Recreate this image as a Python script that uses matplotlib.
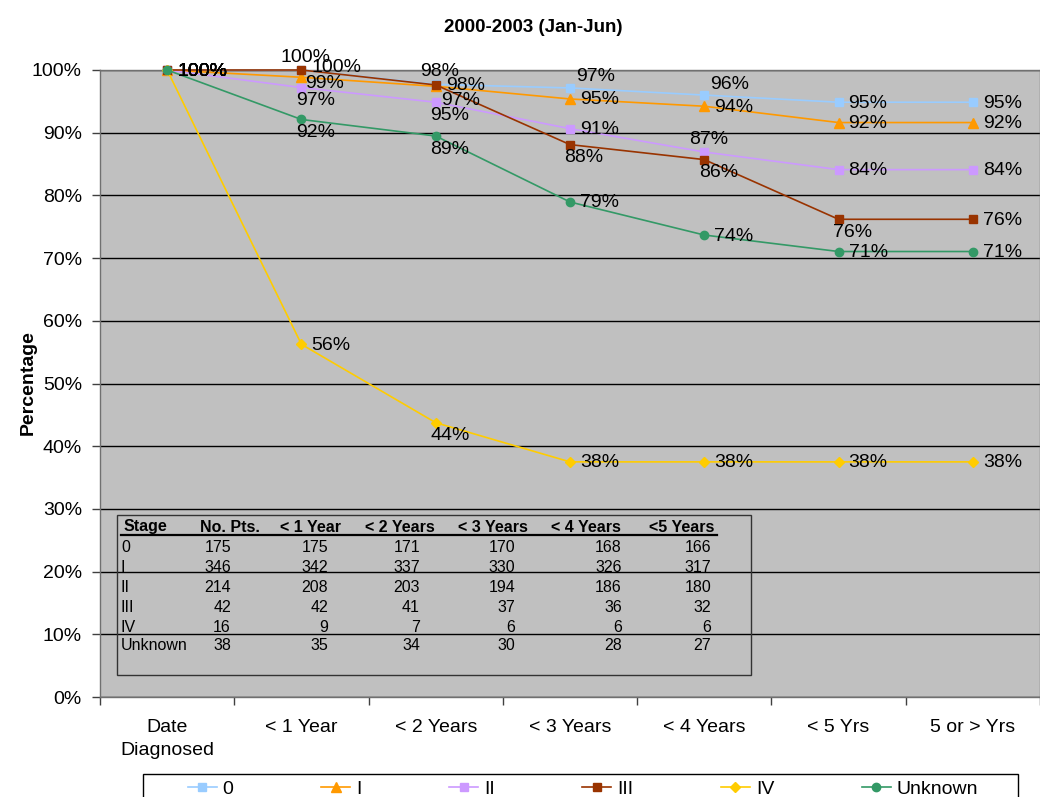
import matplotlib
matplotlib.use("Agg")
import matplotlib.pyplot as plt
from matplotlib.lines import Line2D
from matplotlib.patches import Rectangle

plt.rcParams['font.family'] = ['Liberation Sans', 'DejaVu Sans']

# ---------------- data ----------------
title = "2000-2003 (Jan-Jun)"
categories = ["Date\nDiagnosed", "< 1 Year", "< 2 Years", "< 3 Years",
              "< 4 Years", "< 5 Yrs", "5 or > Yrs"]
series_names = ["0", "I", "II", "III", "IV", "Unknown"]
s0 = [100, 100, 97.71, 97.14, 96.00, 94.86, 94.86]
s1 = [100, 98.84, 97.40, 95.38, 94.22, 91.62, 91.62]
s2 = [100, 97.20, 94.86, 90.65, 86.92, 84.11, 84.11]
s3 = [100, 100, 97.62, 88.10, 85.71, 76.19, 76.19]
s4 = [100, 56.25, 43.75, 37.5, 37.5, 37.5, 37.5]
s5 = [100, 92.11, 89.47, 78.95, 73.68, 71.05, 71.05]
yticks = [0, 10, 20, 30, 40, 50, 60, 70, 80, 90, 100]

table_header = ["Stage", "No. Pts.", "< 1 Year", "< 2 Years", "< 3 Years",
                "< 4 Years", "<5 Years"]
table_stages = ["0", "I", "II", "III", "IV", "Unknown"]
col_no_pts = [175, 346, 214, 42, 16, 38]
col_1y = [175, 342, 208, 42, 9, 35]
col_2y = [171, 337, 203, 41, 7, 34]
col_3y = [170, 330, 194, 37, 6, 30]
col_4y = [168, 326, 186, 36, 6, 28]
col_5y = [166, 317, 180, 32, 6, 27]

# ---------------- styles ----------------
colors = ["#99CCFF", "#FF9900", "#CC99FF", "#993300", "#FFCC00", "#339966"]
markers = ["s", "^", "s", "s", "D", "o"]
msizes = [6, 7, 6, 6, 5, 6]
# label placement codes per point
placements = [
    ["r", "ru", "r", "ar", "ar", "r", "r"],
    ["r", "rd", "br", "r", "r", "r", "r"],
    ["r", "b", "b", "r", "a", "r", "r"],
    ["r", "a", "a", "b", "b", "b", "r"],
    ["r", "r", "b", "r", "r", "r", "r"],
    ["r", "b", "b", "r", "r", "r", "r"],
]
offsets = {
    "r": (10, -1, "left"),
    "ru": (10, 3, "left"),
    "rd": (4, -6, "left"),
    "b": (14, -13, "center"),
    "a": (4, 13, "center"),
    "ar": (6, 11, "left"),
    "br": (5, -14, "left"),
}

W, H = 1040, 797
fig = plt.figure(figsize=(W / 100, H / 100), dpi=100)
ax = fig.add_axes([100 / W, 1 - 697 / H, 940 / W, 627 / H])
ax.set_facecolor("#C0C0C0")

all_series = [s0, s1, s2, s3, s4, s5]
x = list(range(len(categories)))
handles = []
for i, (vals, name) in enumerate(zip(all_series, series_names)):
    h, = ax.plot(x, vals, color=colors[i], marker=markers[i], markersize=msizes[i],
                 markeredgecolor=colors[i], linewidth=1.2, label=name, zorder=3 + i,
                 clip_on=False)
    handles.append(h)

for i, vals in enumerate(all_series):
    for j, v in enumerate(vals):
        dx, dy, ha = offsets[placements[i][j]]
        ax.annotate("%d%%" % int(v + 0.5), (x[j], v), xytext=(dx, dy),
                    textcoords="offset pixels", ha=ha, va="center",
                    fontsize=14, color="black", zorder=20, annotation_clip=False)

ax.set_xlim(-0.5, len(categories) - 0.5)
ax.set_ylim(0, 100)
ax.set_yticks(yticks)
ax.set_yticklabels(["%d%%" % t for t in yticks], fontsize=14)
ax.yaxis.grid(True, color="black", linewidth=1)
ax.set_axisbelow(True)
ax.tick_params(axis="y", length=6, width=1, color="#404040", pad=7)

ax.set_xticks([k - 0.5 for k in range(len(categories) + 1)])
ax.set_xticklabels([])
ax.set_xticks(x, minor=True)
ax.set_xticklabels(categories, minor=True, fontsize=14, linespacing=1.45)
ax.tick_params(axis="x", which="major", length=6, width=1, color="#404040")
ax.tick_params(axis="x", which="minor", length=0, pad=16)

for side in ["left", "bottom", "top", "right"]:
    ax.spines[side].set_color("#707070")
    ax.spines[side].set_linewidth(1)

fig.text(533 / W, 1 - 27 / H, title, ha="center", va="center",
         fontsize=13.5, fontweight="bold")
fig.text(28 / W, 1 - 383 / H, "Percentage", ha="center", va="center",
         rotation=90, fontsize=14, fontweight="bold")

# ---------------- table inside plot ----------------
def fx(px):
    return px / W

def fy(py):
    return 1 - py / H

fig.add_artist(Rectangle((fx(117), fy(675)), fx(751) - fx(117), fy(515) - fy(675),
                         transform=fig.transFigure, fill=False,
                         edgecolor="#333333", linewidth=1, zorder=30))
header_x = [124, 200, 280, 365, 458, 551, 649]
for hx, ht in zip(header_x, table_header):
    fig.text(fx(hx), fy(527), ht, ha="left", va="center", fontsize=11.5,
             fontweight="bold", zorder=31)
fig.add_artist(Line2D([fx(121), fx(717)], [fy(535), fy(535)],
                      transform=fig.transFigure, color="black", linewidth=1.6,
                      zorder=31))
row_y = [547, 567, 587, 607, 627, 646]
col_right = [231, 328, 420, 515, 622, 711]
cols = [col_no_pts, col_1y, col_2y, col_3y, col_4y, col_5y]
for r, stage in enumerate(table_stages):
    fig.text(fx(121), fy(row_y[r]), stage, ha="left", va="center", fontsize=11.5,
             zorder=31)
    for c, col in enumerate(cols):
        fig.text(fx(col_right[c]), fy(row_y[r]), str(col[r]), ha="right",
                 va="center", fontsize=11.5, zorder=31)

# ---------------- legend ----------------
fig.add_artist(Rectangle((fx(143), fy(810)), fx(1018) - fx(143), fy(774) - fy(810),
                         transform=fig.transFigure, facecolor="white",
                         edgecolor="black", linewidth=1, zorder=1))
leg = fig.legend(handles=handles, labels=series_names, loc="upper center",
                 bbox_to_anchor=(583 / W, fy(776)), ncol=6, fontsize=14,
                 frameon=False, handlelength=1.5, handletextpad=0.3,
                 columnspacing=4.5, borderpad=0.2, numpoints=1,
                 borderaxespad=0)
leg.set_zorder(5)

fig.savefig("out.png", dpi=100)
